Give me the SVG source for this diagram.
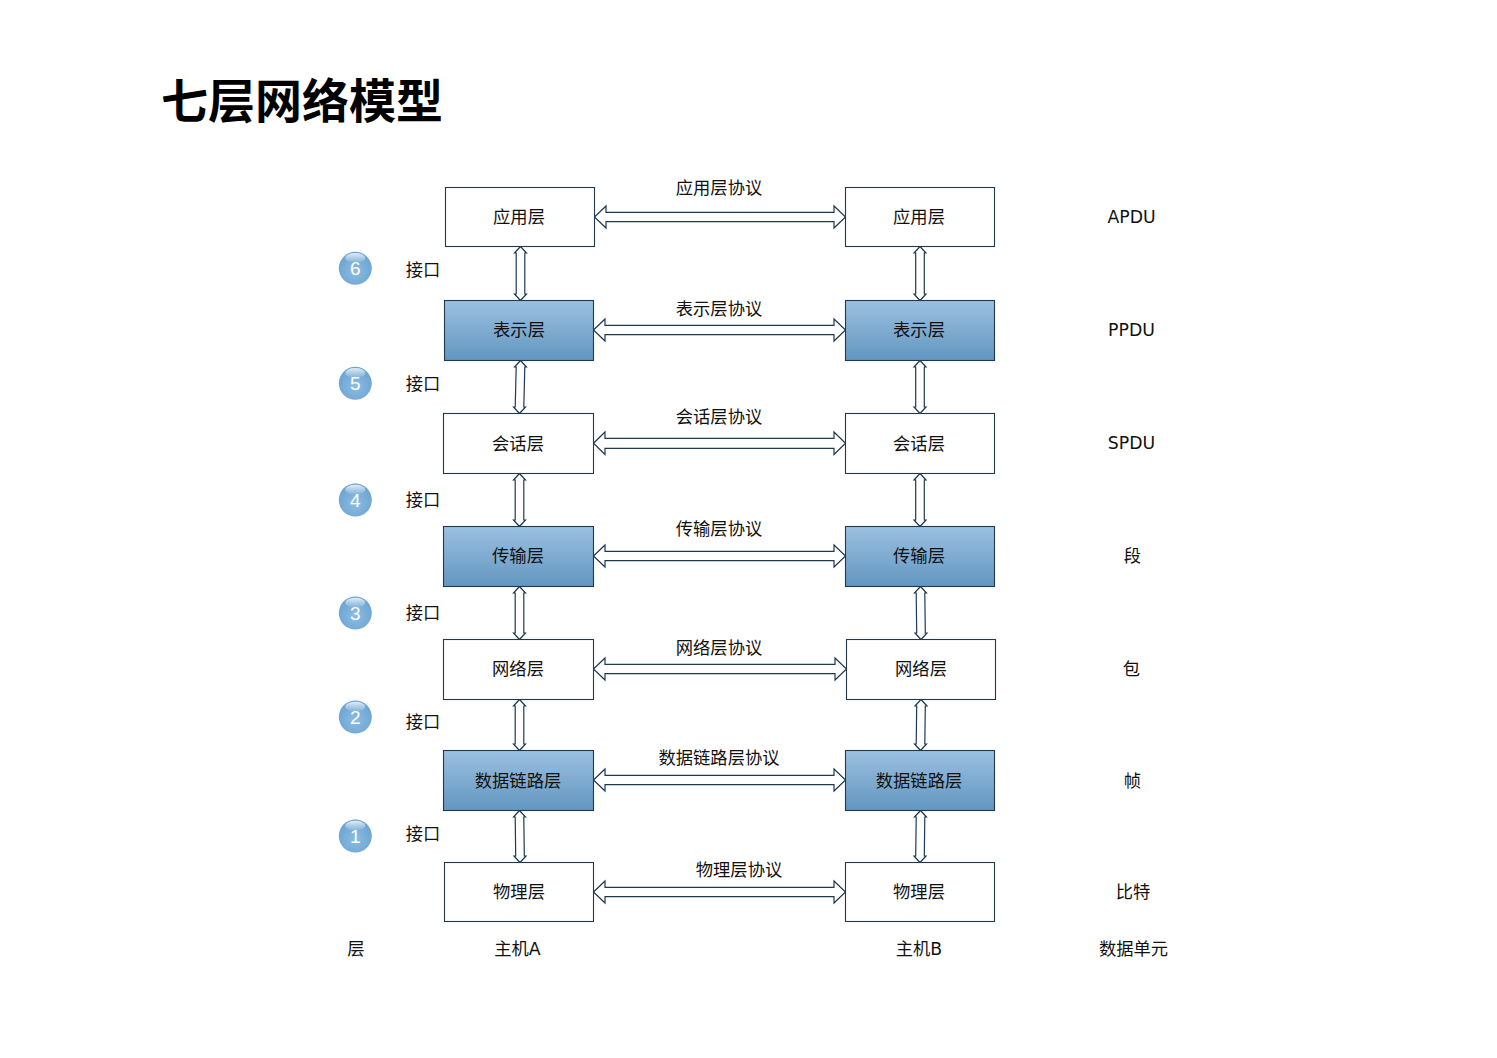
<svg xmlns="http://www.w3.org/2000/svg" width="1497" height="1058" viewBox="0 0 1497 1058">
<style>
text{font-family:"DejaVu Sans","Noto Sans CJK SC",sans-serif;font-size:17.300px;fill:#111;text-anchor:middle}
.t{font-family:"Noto Sans CJK SC",sans-serif;font-size:47px;font-weight:700;fill:#000;text-anchor:start}
.w{fill:#fff;stroke:#1f3a4e;stroke-width:1.100}
.b{fill:url(#blue);stroke:#1f3a4e;stroke-width:1.100}
.a{fill:#fff;stroke:#1f3a4e;stroke-width:1.200}
.ball{fill:url(#ball)}
.gl{fill:url(#gloss)}
.n{fill:#fff;font-family:"Liberation Sans",sans-serif;font-size:19px}
</style>
<defs>
<linearGradient id="blue" x1="0" y1="0" x2="0" y2="1"><stop offset="0" stop-color="#9cc0e0"/><stop offset="1" stop-color="#6296c0"/></linearGradient>
<radialGradient id="ball" cx="0.5" cy="0.6" r="0.6"><stop offset="0" stop-color="#8dbde2"/><stop offset="0.75" stop-color="#72a9d5"/><stop offset="1" stop-color="#6ba2cf"/></radialGradient>
<linearGradient id="gloss" x1="0" y1="0" x2="0" y2="1"><stop offset="0" stop-color="#fff" stop-opacity="0.8"/><stop offset="1" stop-color="#fff" stop-opacity="0.02"/></linearGradient>
</defs>
<rect width="1497" height="1058" fill="#fff"/>
<text class="t" x="161" y="117.500">七层网络模型</text>

<g id="connectors">
<path class="a" d="M594.500 217L606 206V212.300H834V206L845.500 217L834 228V221.700H606V228Z"/>
<path class="a" d="M593.500 330L605 319V325.300H834V319L845.500 330L834 341V334.700H605V341Z"/>
<path class="a" d="M593.500 443.300L605 432V438.300H834V432L845.500 443.300L834 454.500V448.300H605V454.500Z"/>
<path class="a" d="M593.500 556L605 545V551.300H834V545L845.500 556L834 567V560.700H605V567Z"/>
<path class="a" d="M593.500 669L605 658V664.300H835V658L846.500 669L835 680V673.700H605V680Z"/>
<path class="a" d="M593.500 780L605 769V775.300H834V769L845.500 780L834 791V784.700H605V791Z"/>
<path class="a" d="M593.500 892L605 881V887.300H834V881L845.500 892L834 903V896.700H605V903Z"/>

<path class="a" d="M520.500 246.500L526.500 253H524.800V294H526.500L520.500 300.500L514.500 294H516.200V253H514.500Z"/>
<path class="a" d="M520.500 360.500L526.500 367H524.800L523.800 407H525.500L519.500 413.500L513.500 407H515.200L516.200 367H514.500Z"/>
<path class="a" d="M519.500 473.500L525.500 480H523.800V520H525.500L519.500 526.500L513.500 520H515.200V480H513.500Z"/>
<path class="a" d="M519.500 586.500L525.500 593H523.800V633H525.500L519.500 639.500L513.500 633H515.200V593H513.500Z"/>
<path class="a" d="M519.500 699.500L525.500 706H523.800V744H525.500L519.500 750.500L513.500 744H515.200V706H513.500Z"/>
<path class="a" d="M519.500 810.500L525.500 817H523.800L524.300 856H526L520 862.500L514 856H515.700L515.200 817H513.500Z"/>

<path class="a" d="M920 246.500L926 253H924.300V294H926L920 300.500L914 294H915.700V253H914Z"/>
<path class="a" d="M920 360.500L926 367H924.300V407H926L920 413.500L914 407H915.700V367H914Z"/>
<path class="a" d="M920 473.500L926 480H924.300V520H926L920 526.500L914 520H915.700V480H914Z"/>
<path class="a" d="M920.500 586.500L926.500 593H924.800L925.300 633H927L921 639.500L915 633H916.700L916.200 593H914.500Z"/>
<path class="a" d="M921 699.500L927 706H925.300L924.800 744H926.500L920.500 750.500L914.500 744H916.200L916.700 706H915Z"/>
<path class="a" d="M920.500 810.500L926.500 817H924.800L924.300 856H926L920 862.500L914 856H915.700L916.200 817H914.500Z"/>
</g>

<g id="a7"><rect class="w" x="445.500" y="187.500" width="149" height="59"/><text x="519" y="223">应用层</text></g>
<g id="a6"><rect class="b" x="444.500" y="300.500" width="149" height="60"/><text x="519" y="336">表示层</text></g>
<g id="a5"><rect class="w" x="443.500" y="413.500" width="150" height="60"/><text x="518" y="449.500">会话层</text></g>
<g id="a4"><rect class="b" x="443.500" y="526.500" width="150" height="60"/><text x="518" y="562">传输层</text></g>
<g id="a3"><rect class="w" x="443.500" y="639.500" width="150" height="60"/><text x="518" y="675">网络层</text></g>
<g id="a2"><rect class="b" x="443.500" y="750.500" width="150" height="60"/><text x="518" y="787">数据链路层</text></g>
<g id="a1"><rect class="w" x="444.500" y="862.500" width="149" height="59"/><text x="519" y="898">物理层</text></g>

<g id="b7"><rect class="w" x="845.500" y="187.500" width="149" height="59"/><text x="919" y="223">应用层</text></g>
<g id="b6"><rect class="b" x="845.500" y="300.500" width="149" height="60"/><text x="919" y="336">表示层</text></g>
<g id="b5"><rect class="w" x="845.500" y="413.500" width="149" height="60"/><text x="919" y="449.500">会话层</text></g>
<g id="b4"><rect class="b" x="845.500" y="526.500" width="149" height="60"/><text x="919" y="562">传输层</text></g>
<g id="b3"><rect class="w" x="846.500" y="639.500" width="149" height="60"/><text x="921" y="675">网络层</text></g>
<g id="b2"><rect class="b" x="845.500" y="750.500" width="149" height="60"/><text x="919" y="787">数据链路层</text></g>
<g id="b1"><rect class="w" x="845.500" y="862.500" width="149" height="59"/><text x="919" y="898">物理层</text></g>

<g id="protocols">
<text x="719" y="194">应用层协议</text>
<text x="719" y="315">表示层协议</text>
<text x="719" y="423">会话层协议</text>
<text x="719" y="535">传输层协议</text>
<text x="719" y="654">网络层协议</text>
<text x="719" y="764">数据链路层协议</text>
<text x="739" y="876">物理层协议</text>
</g>

<g id="i6"><circle class="ball" cx="355.300" cy="268.300" r="16.500"/><ellipse class="gl" cx="355.300" cy="258" rx="10" ry="5"/><text class="n" x="355.300" y="275">6</text><text x="423" y="276">接口</text></g>
<g id="i5"><circle class="ball" cx="355.300" cy="383.300" r="16.500"/><ellipse class="gl" cx="355.300" cy="373" rx="10" ry="5"/><text class="n" x="355.300" y="389.500">5</text><text x="423" y="390">接口</text></g>
<g id="i4"><circle class="ball" cx="355.300" cy="500" r="16.500"/><ellipse class="gl" cx="355.300" cy="489.700" rx="10" ry="5"/><text class="n" x="355.300" y="506.500">4</text><text x="423" y="506">接口</text></g>
<g id="i3"><circle class="ball" cx="355.300" cy="613" r="16.500"/><ellipse class="gl" cx="355.300" cy="602.700" rx="10" ry="5"/><text class="n" x="355.300" y="619.500">3</text><text x="423" y="619">接口</text></g>
<g id="i2"><circle class="ball" cx="355.300" cy="717" r="16.500"/><ellipse class="gl" cx="355.300" cy="706.700" rx="10" ry="5"/><text class="n" x="355.300" y="723.500">2</text><text x="423" y="728">接口</text></g>
<g id="i1"><circle class="ball" cx="355.300" cy="836" r="16.500"/><ellipse class="gl" cx="355.300" cy="825.700" rx="10" ry="5"/><text class="n" x="355.300" y="842.500">1</text><text x="423" y="840">接口</text></g>

<g id="units">
<text x="1131.500" y="223">APDU</text>
<text x="1131.500" y="336">PPDU</text>
<text x="1131.500" y="449">SPDU</text>
<text x="1132.500" y="562">段</text>
<text x="1131.500" y="675">包</text>
<text x="1132.500" y="787">帧</text>
<text x="1133" y="898">比特</text>
</g>

<g id="footer">
<text x="356" y="955">层</text>
<text x="517.500" y="955">主机A</text>
<text x="919" y="955">主机B</text>
<text x="1133.500" y="955">数据单元</text>
</g>
</svg>
